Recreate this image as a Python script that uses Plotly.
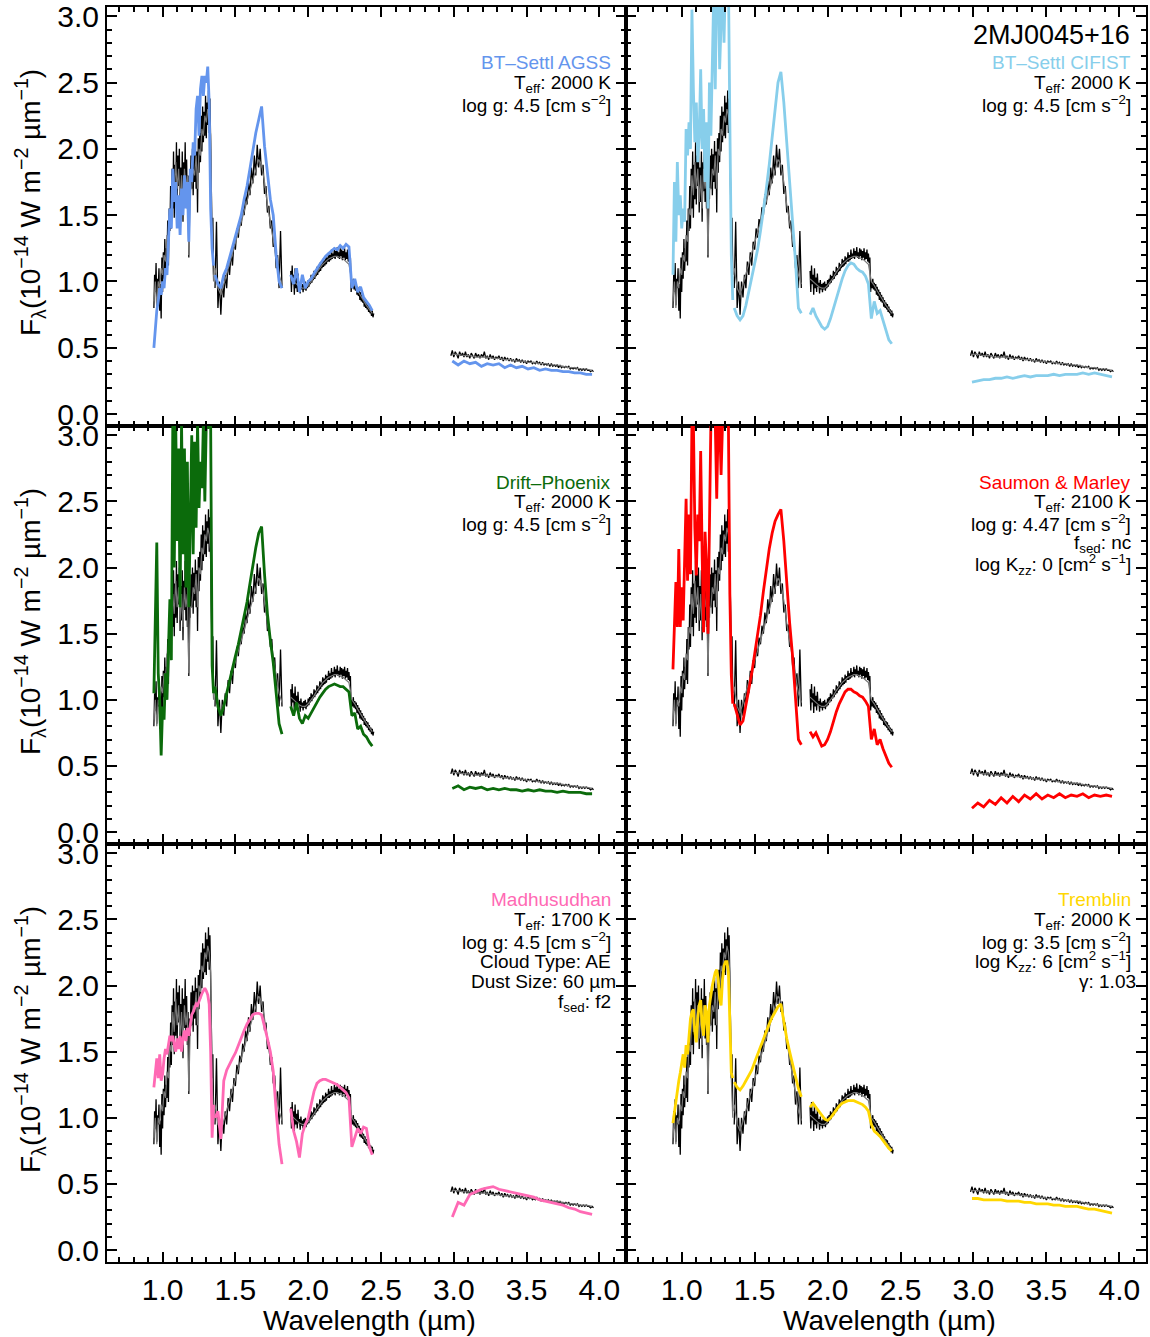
import numpy as np
import plotly.graph_objects as go

# ---------------------------------------------------------------------------
# Wavelength sampling (µm): start, stop, step for each observed band
# ---------------------------------------------------------------------------
OBS_SEGMENTS = [(0.94, 1.35, 0.005), (1.36, 1.82, 0.01), (1.88, 2.45, 0.005), (2.98, 3.96, 0.01)]
MODEL_SEGMENTS = [(0.94, 1.35, 0.01), (1.36, 1.82, 0.02), (1.88, 2.44, 0.02), (2.99, 3.95, 0.04)]

# Observed spectrum of 2MJ0045+16 (10^-14 W m^-2 µm^-1)
OBS_FLUX = [
    # J
    0.80, 1.05, 0.92, 1.14, 0.82, 1.02, 0.95, 1.10, 0.78, 0.98,
    0.72, 1.18, 0.92, 1.22, 1.02, 1.32, 1.08, 1.25, 1.15, 1.46,
    1.12, 1.55, 1.38, 1.72, 1.40, 1.85, 1.55, 1.98, 1.48, 1.88,
    1.62, 2.05, 1.58, 1.95, 1.72, 2.00, 1.52, 1.86, 1.60, 1.98,
    1.45, 1.90, 1.68, 2.05, 1.60, 1.92, 1.55, 1.80, 1.18, 1.75,
    1.62, 1.95, 1.70, 2.00, 1.65, 1.96, 1.75, 2.06, 1.70, 1.98,
    1.52, 2.08, 1.82, 2.12, 1.90, 2.25, 1.98, 2.32, 2.05, 2.28,
    2.10, 2.40, 2.08, 2.35, 2.18, 2.44, 2.12, 2.38, 2.05, 1.55,
    1.30, 1.48, 1.05,
    # H
    0.95, 1.45, 0.80, 1.00, 0.75, 1.00, 0.88, 1.05, 0.95, 1.15,
    1.05, 1.22, 1.12, 1.30, 1.24, 1.40, 1.33, 1.47, 1.42, 1.56,
    1.50, 1.66, 1.58, 1.76, 1.65, 1.86, 1.74, 1.95, 1.80, 2.03,
    1.86, 2.00, 1.80, 1.88, 1.66, 1.72, 1.52, 1.57, 1.40, 1.46,
    1.26, 1.32, 1.10, 1.20, 0.95, 1.38, 0.95,
    # K
    1.08, 0.92, 1.12, 0.98, 1.05, 0.90, 1.10, 0.95, 1.03, 0.92,
    1.06, 0.96, 0.99, 0.91, 1.01, 0.94, 0.98, 0.92, 0.99, 0.94,
    1.00, 0.93, 0.98, 0.95, 1.01, 0.96, 1.02, 0.98, 1.05, 0.99,
    1.04, 1.01, 1.08, 1.02, 1.07, 1.04, 1.11, 1.05, 1.10, 1.07,
    1.14, 1.08, 1.13, 1.10, 1.17, 1.11, 1.16, 1.12, 1.19, 1.13,
    1.18, 1.15, 1.22, 1.15, 1.20, 1.16, 1.24, 1.17, 1.21, 1.18,
    1.25, 1.17, 1.23, 1.19, 1.26, 1.18, 1.22, 1.17, 1.25, 1.19,
    1.24, 1.16, 1.23, 1.18, 1.25, 1.16, 1.22, 1.17, 1.24, 1.15,
    1.21, 1.14, 1.18, 0.92, 1.00, 0.95, 1.02, 0.94, 0.99, 0.93,
    0.98, 0.90, 0.96, 0.89, 0.94, 0.86, 0.92, 0.85, 0.90, 0.84,
    0.88, 0.81, 0.86, 0.80, 0.84, 0.79, 0.83, 0.77, 0.81, 0.76,
    0.79, 0.74, 0.78, 0.73, 0.76,
    # L
    0.44, 0.48, 0.43, 0.47, 0.45, 0.42, 0.47, 0.44, 0.46, 0.43,
    0.47, 0.43, 0.45, 0.42, 0.46, 0.44, 0.42, 0.46, 0.43, 0.45,
    0.42, 0.45, 0.43, 0.47, 0.42, 0.44, 0.41, 0.45, 0.42, 0.44,
    0.41, 0.43, 0.42, 0.44, 0.41, 0.43, 0.40, 0.43, 0.41, 0.42,
    0.40, 0.42, 0.40, 0.41, 0.39, 0.42, 0.40, 0.41, 0.39, 0.41,
    0.39, 0.40, 0.38, 0.40, 0.39, 0.40, 0.38, 0.39, 0.38, 0.40,
    0.38, 0.39, 0.37, 0.39, 0.37, 0.38, 0.37, 0.38, 0.36, 0.38,
    0.36, 0.37, 0.36, 0.37, 0.35, 0.37, 0.35, 0.36, 0.35, 0.36,
    0.35, 0.36, 0.34, 0.35, 0.34, 0.35, 0.34, 0.35, 0.33, 0.34,
    0.33, 0.34, 0.33, 0.34, 0.33, 0.33, 0.32, 0.33, 0.32,
]

# Lower-resolution observed spectrum (grey)
GREY_FLUX = [
    0.85, 1.00, 0.80, 1.00, 0.95, 1.10, 1.05, 1.20, 1.15, 1.35,
    1.30, 1.55, 1.50, 1.80, 1.65, 1.90, 1.70, 1.85, 1.60, 1.80,
    1.55, 1.85, 1.70, 1.80, 1.20, 1.70, 1.70, 1.85, 1.80, 1.95,
    1.70, 2.00, 1.95, 2.15, 2.10, 2.25, 2.20, 2.30, 2.25, 2.10,
    1.30, 1.00,
    1.10, 0.95, 0.90, 0.98, 1.05, 1.12, 1.20, 1.28, 1.36, 1.45, 1.52, 1.60,
    1.68, 1.76, 1.85, 1.92, 1.88, 1.75, 1.58, 1.45, 1.30, 1.18, 1.05, 0.98,
    1.02, 1.00, 0.98, 0.96, 0.95, 0.95, 0.97, 1.00, 1.03, 1.07, 1.10, 1.13, 1.15, 1.17, 1.18,
    1.19, 1.19, 1.18, 1.17, 1.15, 1.13, 1.00, 0.97, 0.93, 0.89, 0.86, 0.82, 0.79, 0.76,
    0.45, 0.45, 0.44, 0.44, 0.43, 0.43, 0.43, 0.42, 0.42, 0.41, 0.41, 0.40, 0.40,
    0.39, 0.39, 0.38, 0.38, 0.37, 0.37, 0.36, 0.35, 0.35, 0.34, 0.34, 0.33,
]

# Best-fitting model spectra
BT_SETTL_AGSS = [
    0.50, 0.65, 0.78, 0.85, 0.95, 0.90, 1.00, 0.95, 1.10, 1.05,
    1.30, 1.55, 1.40, 1.85, 1.60, 1.75, 1.40, 1.65, 1.35, 1.70,
    1.50, 1.80, 1.55, 1.75, 1.30, 1.85, 1.75, 2.05, 1.95, 2.30,
    2.40, 2.10, 2.45, 2.55, 2.40, 2.55, 2.50, 2.62, 2.35, 1.55,
    1.25, 1.12,
    1.05, 0.98, 0.95, 1.05, 1.10, 1.18, 1.26, 1.34, 1.42, 1.50, 1.62, 1.72,
    1.85, 2.00, 2.12, 2.22, 2.32, 2.02, 1.80, 1.62, 1.50, 1.20, 1.00, 0.95,
    1.05, 0.98, 1.10, 0.92, 1.05, 0.95, 1.00, 1.02, 1.06, 1.10, 1.13, 1.16, 1.19, 1.21, 1.23,
    1.25, 1.24, 1.27, 1.25, 1.28, 1.26, 0.95, 1.02, 0.92, 0.96, 0.88, 0.85, 0.82, 0.78,
    0.40, 0.37, 0.40, 0.38, 0.39, 0.36, 0.38, 0.37, 0.38, 0.35, 0.37, 0.35, 0.36,
    0.34, 0.35, 0.33, 0.34, 0.33, 0.33, 0.32, 0.32, 0.31, 0.31, 0.30, 0.30,
]

BT_SETTL_CIFIST = [
    1.05, 1.75, 1.30, 1.90, 1.50, 1.65, 1.40, 1.55, 1.45, 2.15,
    1.95, 2.20, 2.00, 3.05, 2.45, 2.05, 2.35, 1.90, 2.10, 2.60,
    2.00, 2.30, 1.75, 2.20, 1.55, 2.50, 2.10, 2.70, 3.20, 2.45,
    3.30, 3.30, 2.60, 2.95, 3.30, 2.80, 3.30, 3.30, 3.30, 2.20,
    1.20, 0.86,
    0.80, 0.74, 0.71, 0.74, 0.82, 0.92, 1.02, 1.12, 1.24, 1.38, 1.53, 1.70,
    1.88, 2.08, 2.30, 2.50, 2.58, 2.35, 2.05, 1.72, 1.45, 1.15, 0.80, 0.76,
    0.75, 0.80, 0.74, 0.70, 0.66, 0.64, 0.66, 0.72, 0.80, 0.88, 0.95, 1.02, 1.08, 1.12, 1.14,
    1.13, 1.10, 1.08, 1.07, 1.04, 0.98, 0.72, 0.85, 0.76, 0.78, 0.70, 0.64, 0.56, 0.53,
    0.24, 0.25, 0.26, 0.26, 0.27, 0.27, 0.28, 0.27, 0.28, 0.29, 0.28, 0.29, 0.29,
    0.29, 0.30, 0.29, 0.30, 0.30, 0.30, 0.31, 0.30, 0.31, 0.30, 0.29, 0.28,
]

DRIFT_PHOENIX = [
    1.05, 1.60, 2.19, 1.20, 1.00, 0.58, 0.95, 0.85, 1.20, 1.00,
    1.50, 1.76, 1.30, 3.10, 2.00, 3.10, 2.20, 2.90, 1.70, 3.10,
    2.10, 2.90, 1.85, 2.80, 1.70, 2.40, 3.00, 2.10, 2.95, 2.30,
    3.10, 2.45, 2.80, 2.60, 3.10, 2.50, 3.10, 3.05, 3.10, 3.10,
    1.26, 1.05,
    1.10, 0.95, 0.88, 0.95, 1.05, 1.15, 1.24, 1.33, 1.42, 1.52, 1.62, 1.74,
    1.88, 2.02, 2.15, 2.26, 2.31, 1.95, 1.65, 1.45, 1.28, 1.05, 0.82, 0.74,
    0.95, 0.88, 0.98, 0.86, 0.82, 0.88, 0.86, 0.90, 0.95, 0.99, 1.02, 1.05, 1.08, 1.10, 1.11,
    1.12, 1.11, 1.10, 1.10, 1.08, 1.06, 0.88, 0.90, 0.78, 0.80, 0.74, 0.72, 0.68, 0.65,
    0.33, 0.35, 0.32, 0.34, 0.33, 0.34, 0.32, 0.33, 0.32, 0.33, 0.32, 0.32, 0.31,
    0.32, 0.31, 0.32, 0.31, 0.31, 0.30, 0.31, 0.30, 0.30, 0.30, 0.29, 0.29,
]

SAUMON_MARLEY = [
    1.23, 1.56, 1.89, 1.55, 2.14, 1.55, 1.85, 1.60, 2.00, 2.52,
    1.90, 2.40, 1.95, 3.10, 3.10, 2.30, 1.94, 2.40, 2.20, 2.88,
    2.10, 1.51, 2.27, 2.00, 1.50, 2.25, 3.10, 3.10, 3.10, 3.10,
    2.52, 3.10, 3.10, 2.70, 3.10, 3.10, 3.10, 3.10, 3.10, 1.80,
    1.19, 0.97,
    0.97, 0.88, 0.81, 0.84, 0.95, 1.08, 1.20, 1.34, 1.48, 1.64, 1.82, 2.00,
    2.14, 2.26, 2.35, 2.40, 2.44, 2.20, 1.88, 1.58, 1.33, 1.00, 0.70, 0.66,
    0.76, 0.72, 0.75, 0.70, 0.65, 0.66, 0.70, 0.76, 0.84, 0.91, 0.97, 1.02, 1.06, 1.08, 1.08,
    1.06, 1.05, 1.03, 1.02, 0.99, 0.95, 0.70, 0.78, 0.66, 0.70, 0.63, 0.58, 0.52, 0.49,
    0.18, 0.22, 0.19, 0.24, 0.21, 0.26, 0.22, 0.27, 0.23, 0.28, 0.25, 0.29, 0.25,
    0.28, 0.26, 0.29, 0.26, 0.28, 0.27, 0.29, 0.26, 0.28, 0.27, 0.28, 0.27,
]

MADHUSUDHAN = [
    1.23, 1.32, 1.45, 1.30, 1.48, 1.28, 1.33, 1.45, 1.52, 1.48,
    1.55, 1.62, 1.58, 1.62, 1.55, 1.50, 1.60, 1.52, 1.62, 1.50,
    1.60, 1.66, 1.58, 1.68, 1.62, 1.72, 1.78, 1.80, 1.84, 1.86,
    1.85, 1.88, 1.92, 1.94, 1.96, 1.98, 1.96, 1.93, 1.86, 1.50,
    0.85, 1.10,
    1.00, 1.05, 0.84, 1.28, 1.36, 1.41, 1.45, 1.49, 1.55, 1.60, 1.66, 1.71,
    1.75, 1.78, 1.79, 1.79, 1.78, 1.70, 1.60, 1.50, 1.35, 1.05, 0.80, 0.65,
    1.07, 0.90, 0.82, 0.70, 0.88, 0.95, 1.00, 1.10, 1.20, 1.26, 1.28, 1.29, 1.29, 1.28, 1.27,
    1.26, 1.25, 1.23, 1.21, 1.19, 1.15, 0.78, 0.85, 0.92, 0.88, 0.93, 0.92, 0.78, 0.72,
    0.25, 0.36, 0.34, 0.42, 0.44, 0.46, 0.47, 0.48, 0.46, 0.45, 0.44, 0.43, 0.42,
    0.41, 0.40, 0.38, 0.37, 0.36, 0.35, 0.34, 0.32, 0.31, 0.29, 0.28, 0.27,
]

TREMBLIN = [
    0.96, 1.05, 1.12, 1.19, 1.28, 1.34, 1.40, 1.48, 1.38, 1.55,
    1.48, 1.62, 1.75, 1.80, 1.82, 1.65, 1.57, 1.75, 1.85, 1.89,
    1.70, 1.62, 1.85, 1.80, 1.57, 1.85, 1.95, 2.00, 2.05, 2.10,
    2.12, 2.05, 1.90, 1.85, 2.05, 2.15, 2.18, 2.18, 2.10, 1.70,
    1.34, 1.30,
    1.27, 1.23, 1.21, 1.24, 1.28, 1.32, 1.36, 1.42, 1.48, 1.54, 1.60, 1.66,
    1.71, 1.76, 1.80, 1.84, 1.86, 1.72, 1.60, 1.50, 1.40, 1.30, 1.22, 1.16,
    1.08, 1.11, 1.08, 1.05, 1.02, 0.99, 0.98, 1.00, 1.03, 1.06, 1.09, 1.11, 1.12, 1.13, 1.13,
    1.13, 1.12, 1.11, 1.10, 1.08, 1.05, 0.95, 0.90, 0.88, 0.86, 0.83, 0.80, 0.77, 0.75,
    0.39, 0.39, 0.38, 0.38, 0.38, 0.38, 0.37, 0.37, 0.37, 0.36, 0.36, 0.35, 0.35,
    0.35, 0.34, 0.34, 0.33, 0.33, 0.33, 0.32, 0.31, 0.31, 0.30, 0.29, 0.28,
]

MODEL_NAMES = ["BT–Settl AGSS", "BT–Settl CIFIST", "Drift–Phoenix",
               "Saumon & Marley", "Madhusudhan", "Tremblin"]
MODEL_COLORS = ["#6495ED", "#87CEEB", "#0B6B0B", "#FF0000", "#FF69B4", "#FFD700"]
MODEL_FLUXES = [BT_SETTL_AGSS, BT_SETTL_CIFIST, DRIFT_PHOENIX,
                SAUMON_MARLEY, MADHUSUDHAN, TREMBLIN]
MODEL_PARAMS = [
    ["T<sub>eff</sub>: 2000 K", "log g: 4.5 [cm s<sup>−2</sup>]"],
    ["T<sub>eff</sub>: 2000 K", "log g: 4.5 [cm s<sup>−2</sup>]"],
    ["T<sub>eff</sub>: 2000 K", "log g: 4.5 [cm s<sup>−2</sup>]"],
    ["T<sub>eff</sub>: 2100 K", "log g: 4.47 [cm s<sup>−2</sup>]", "f<sub>sed</sub>: nc",
     "log K<sub>zz</sub>: 0 [cm<sup>2</sup> s<sup>−1</sup>]"],
    ["T<sub>eff</sub>: 1700 K", "log g: 4.5 [cm s<sup>−2</sup>]", "Cloud Type: AE",
     "Dust Size: 60 µm", "f<sub>sed</sub>: f2"],
    ["T<sub>eff</sub>: 2000 K", "log g: 3.5 [cm s<sup>−2</sup>]",
     "log K<sub>zz</sub>: 6 [cm<sup>2</sup> s<sup>−1</sup>]", "γ: 1.03"],
]
OBJECT_NAME = "2MJ0045+16"
X_TICKS = [1.0, 1.5, 2.0, 2.5, 3.0, 3.5, 4.0]
Y_TICKS = [0.0, 0.5, 1.0, 1.5, 2.0, 2.5, 3.0]

FONT = "Liberation Sans, Arial, Helvetica, sans-serif"
W, H = 1150, 1337


def band_grid(segments):
    """Wavelength samples per band."""
    return [np.round(a + s * np.arange(int(round((b - a) / s)) + 1), 3) for a, b, s in segments]


def with_gaps(grids, flux):
    """Concatenate bands, separating them with None so the line breaks."""
    xs, ys, i = [], [], 0
    for g in grids:
        n = len(g)
        xs += list(g) + [None]
        ys += list(flux[i:i + n]) + [None]
        i += n
    assert i == len(flux), (i, len(flux))
    return xs, ys


obs_grid = band_grid(OBS_SEGMENTS)
mod_grid = band_grid(MODEL_SEGMENTS)
obs_x, obs_y = with_gaps(obs_grid, OBS_FLUX)
grey_x, grey_y = with_gaps(mod_grid, GREY_FLUX)

# panel geometry in pixels (left, right) and (top, bottom)
COLS = [(107, 626), (626, 1146)]
ROWS = [(7, 426), (426, 844), (844, 1262)]

fig = go.Figure()
layout = dict(
    width=W, height=H, margin=dict(l=0, r=0, t=0, b=0, autoexpand=False),
    paper_bgcolor="white", plot_bgcolor="white", showlegend=False,
    font=dict(family=FONT, color="black"),
)
annotations = []

for k in range(6):
    r, c = divmod(k, 2)
    ax = "" if k == 0 else str(k + 1)
    (x0, x1), (y0, y1) = COLS[c], ROWS[r]
    xd = [x0 / W, x1 / W]
    yd = [1 - y1 / H, 1 - y0 / H]

    common = dict(
        showline=True, linewidth=2, linecolor="black", mirror="allticks",
        ticks="inside", ticklen=10, tickwidth=2, tickcolor="black",
        showgrid=False, zeroline=False, automargin=False, ticklabeloverflow="allow",
        tickfont=dict(family=FONT, size=30, color="black"),
        minor=dict(ticks="inside", ticklen=5, tickwidth=1.5, tickcolor="black",
                   dtick=0.1, tick0=0.0, showgrid=False),
    )
    layout["xaxis" + ax] = dict(
        common, domain=xd, range=[0.618, 4.183], anchor="y" + ax,
        tickvals=X_TICKS, ticktext=[f"{v:.1f}" for v in X_TICKS],
        showticklabels=(r == 2),
    )
    layout["yaxis" + ax] = dict(
        common, domain=yd, range=[-0.09, 3.07], anchor="x" + ax,
        tickvals=Y_TICKS, ticktext=[f"{v:.1f}" for v in Y_TICKS],
        showticklabels=(c == 0),
    )

    fig.add_trace(go.Scatter(x=obs_x, y=obs_y, mode="lines", line=dict(color="black", width=1.3),
                             xaxis="x" + ax, yaxis="y" + ax, connectgaps=False))
    fig.add_trace(go.Scatter(x=grey_x, y=grey_y, mode="lines", line=dict(color="#777777", width=1.2),
                             xaxis="x" + ax, yaxis="y" + ax, connectgaps=False))
    mx, my = with_gaps(mod_grid, MODEL_FLUXES[k])
    fig.add_trace(go.Scatter(x=mx, y=my, mode="lines", line=dict(color=MODEL_COLORS[k], width=2.8),
                             xaxis="x" + ax, yaxis="y" + ax, connectgaps=False))

    # model label block, right-aligned in the upper right corner
    xr = (x1 - 13) / W
    lines = [(MODEL_NAMES[k], MODEL_COLORS[k])] + [(t, "black") for t in MODEL_PARAMS[k]]
    for j, (txt, col) in enumerate(lines):
        xoff = 5 if txt.startswith("Dust") or txt.startswith("γ") else 0
        annotations.append(dict(
            x=xr + xoff / W, y=1 - (y0 + 56 + 20.5 * j) / H, xref="paper", yref="paper",
            text=txt, showarrow=False, xanchor="right", yanchor="middle",
            font=dict(family=FONT, size=19, color=col),
        ))

    if c == 0:
        annotations.append(dict(
            x=30 / W, y=1 - (y0 + 196) / H, xref="paper", yref="paper",
            text="F<sub>λ</sub>(10<sup>−14</sup> W m<sup>−2</sup> µm<sup>−1</sup>)",
            textangle=-90, showarrow=False, xanchor="center", yanchor="middle",
            font=dict(family=FONT, size=28, color="black"),
        ))
    if r == 2:
        annotations.append(dict(
            x=(x0 + x1) / 2 / W + 3 / W, y=1 - 1320 / H, xref="paper", yref="paper",
            text="Wavelength (µm)", showarrow=False, xanchor="center", yanchor="middle",
            font=dict(family=FONT, size=28, color="black"),
        ))

annotations.append(dict(
    x=(1146 - 14) / W, y=1 - 35 / H, xref="paper", yref="paper",
    text=OBJECT_NAME, showarrow=False, xanchor="right", yanchor="middle",
    font=dict(family=FONT, size=27, color="black"),
))
layout["annotations"] = annotations
fig.update_layout(**layout)
fig.write_html("out.html")
